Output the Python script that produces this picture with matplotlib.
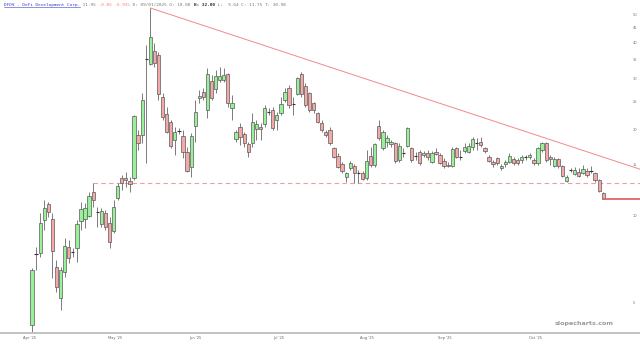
import numpy as np
import matplotlib
matplotlib.use("Agg")
import matplotlib.pyplot as plt
from matplotlib.ticker import FixedLocator, NullLocator

# ---- data (daily candles, DFDV) ----
opens = [4.18, 7.37, 7.43, 9.67, 10.99, 9.75, 6.63, 5.19, 6.38, 7.79,
         7.49, 7.73, 9.59, 9.75, 9.99, 12.09, 10.31, 9.36, 10.23, 9.44,
         8.86, 11.53, 13.54, 13.54, 13.21, 13.54, 19.09, 19.09, 35.02, 33.65,
         37.36, 36.19, 25.85, 22.56, 21.18, 18.34, 19.70, 18.93, 16.66, 14.77,
         20.51, 25.65, 26.91, 23.31, 29.39, 27.56, 29.63, 29.63, 31.06, 23.68,
         18.47, 20.34, 19.22, 17.75, 17.90, 20.01, 20.34, 20.83, 22.94, 23.31,
         21.52, 22.75, 25.25, 27.79, 24.44, 26.47, 31.06, 28.24, 26.69, 24.64,
         22.75, 21.00, 19.54, 19.86, 17.20, 16.13, 15.13, 13.64, 14.66, 14.90,
         14.08, 14.08, 13.54, 16.13, 15.02, 20.51, 17.20, 18.05, 17.75, 17.90,
         15.63, 16.52, 17.48, 17.20, 16.13, 16.66, 16.27, 16.52, 15.38, 16.66,
         16.27, 15.51, 15.02, 14.90, 17.20, 16.00, 16.79, 16.66, 17.33, 17.90,
         18.05, 17.20, 16.00, 15.38, 15.88, 14.66, 15.13, 15.38, 15.75, 15.63,
         15.63, 16.00, 16.00, 15.63, 15.25, 16.93, 17.90, 16.00, 14.90, 15.75,
         14.90, 13.21, 14.43, 13.97, 14.20, 14.08, 14.31, 14.31, 14.08, 13.32,
         12.00]
highs = [6.58, 7.79, 10.23, 11.35, 11.17, 10.23, 7.02, 6.63, 8.38, 8.24,
         7.73, 9.67, 11.17, 11.08, 12.09, 13.00, 10.73, 10.65, 10.48, 9.90,
         11.35, 13.00, 13.87, 14.20, 13.64, 22.40, 19.86, 26.69, 39.20, 52.69,
         39.81, 37.06, 26.69, 23.86, 21.52, 20.34, 20.19, 19.86, 17.33, 19.38,
         25.25, 27.35, 27.79, 32.60, 30.84, 32.09, 32.85, 32.60, 31.32, 26.28,
         19.86, 21.00, 19.54, 18.05, 22.75, 21.52, 21.00, 24.27, 23.68, 23.86,
         22.94, 25.85, 27.79, 28.47, 25.85, 30.33, 31.58, 28.92, 26.91, 24.85,
         22.94, 21.52, 19.86, 20.34, 17.33, 16.52, 15.38, 14.20, 15.51, 15.13,
         14.43, 14.31, 16.93, 17.33, 17.90, 21.52, 19.86, 19.09, 18.34, 18.05,
         17.90, 17.20, 20.34, 17.33, 16.66, 16.93, 16.79, 16.93, 16.79, 17.20,
         16.52, 15.88, 15.38, 17.33, 17.33, 16.93, 17.90, 17.90, 18.77, 18.63,
         18.77, 17.33, 16.27, 15.63, 16.00, 15.13, 15.63, 16.52, 16.00, 15.88,
         16.27, 16.27, 16.52, 15.88, 17.33, 18.05, 18.05, 16.27, 16.00, 15.88,
         15.02, 13.87, 14.66, 14.77, 14.66, 15.02, 14.66, 14.90, 14.20, 13.42,
         12.09]
lows = [3.95, 6.48, 7.19, 8.93, 9.90, 6.08, 5.44, 4.71, 6.12, 6.85,
        7.19, 6.91, 8.93, 9.07, 9.90, 10.73, 9.14, 9.14, 8.93, 7.73,
        8.72, 11.35, 12.29, 12.59, 12.09, 13.32, 16.93, 17.90, 15.25, 33.40,
        32.85, 25.25, 21.52, 19.38, 17.20, 16.27, 19.22, 15.88, 14.20, 13.64,
        18.05, 24.64, 25.25, 21.86, 25.25, 26.69, 29.16, 29.16, 23.86, 21.52,
        18.05, 17.62, 17.33, 16.00, 17.33, 18.34, 18.34, 20.34, 22.40, 19.86,
        19.86, 22.40, 24.85, 23.68, 22.40, 26.28, 25.85, 23.86, 22.94, 22.75,
        21.00, 19.54, 18.77, 17.62, 15.88, 14.66, 14.08, 13.11, 14.43, 13.00,
        13.00, 13.32, 13.32, 14.77, 14.77, 18.34, 16.93, 17.33, 17.33, 15.25,
        15.38, 16.00, 17.33, 15.38, 15.63, 15.02, 16.00, 15.63, 15.25, 16.27,
        15.13, 14.66, 14.77, 14.77, 15.88, 15.63, 16.52, 16.52, 16.93, 16.93,
        17.33, 16.52, 15.38, 14.77, 15.02, 14.43, 14.77, 15.25, 15.02, 15.02,
        15.25, 15.63, 15.75, 15.02, 15.02, 16.66, 15.38, 15.02, 14.77, 14.66,
        13.64, 13.11, 14.20, 13.87, 13.64, 13.97, 13.64, 14.08, 13.11, 12.09,
        11.43]
closes = [6.48, 7.37, 9.44, 10.65, 10.31, 7.55, 5.66, 6.48, 7.85, 7.14,
          7.49, 9.36, 10.56, 10.65, 11.71, 11.35, 10.31, 10.40, 9.14, 8.11,
          10.73, 12.69, 13.00, 13.32, 12.89, 22.21, 17.90, 25.25, 35.02, 41.76,
          33.93, 26.47, 22.03, 19.54, 17.48, 19.54, 19.70, 16.66, 14.31, 18.93,
          22.94, 26.06, 25.85, 31.06, 25.65, 30.58, 30.58, 30.84, 24.64, 24.64,
          19.54, 18.77, 17.90, 16.66, 21.18, 20.83, 20.01, 23.68, 22.94, 20.19,
          22.40, 24.44, 26.91, 24.27, 24.44, 30.10, 26.47, 24.27, 23.31, 23.31,
          21.18, 19.86, 19.09, 17.90, 16.00, 14.77, 14.31, 14.08, 15.25, 14.08,
          14.08, 13.42, 15.51, 15.02, 17.75, 18.63, 19.54, 18.63, 18.05, 15.51,
          17.48, 16.52, 20.19, 15.63, 16.13, 15.25, 16.52, 16.00, 16.52, 16.39,
          15.25, 14.90, 14.90, 17.06, 16.00, 16.00, 17.33, 17.48, 18.47, 17.90,
          17.62, 16.79, 15.51, 15.13, 15.25, 14.90, 15.38, 16.13, 15.25, 15.25,
          16.00, 16.00, 16.27, 15.25, 17.20, 17.90, 15.63, 15.75, 15.75, 14.90,
          13.75, 13.64, 14.43, 14.43, 13.75, 14.54, 13.87, 14.31, 13.32, 12.19,
          11.43]

month_labels = ["Apr '25", "May '25", "Jun '25", "Jul '25", "Aug '25", "Sep '25", "Oct '25"]
month_pos = [-0.7, 20.3, 40.0, 60.5, 82.1, 101.2, 123.3]
ytick_vals = [5, 10, 15, 20, 25, 30, 35, 40, 45, 50]

support_level = 12.95       # dashed horizontal line
support_start = 15
trend_pts_x = [29, 149]     # resistance trend line
trend_pts_y = [52.69, 14.5]
last_price = closes[-1]

header_parts = [
    ("DFDV - DeFi Development Corp.", "#3b3bd0", "normal"),
    (" 11.95", "#777777", "normal"),
    (" -0.85 -6.93%", "#f08080", "normal"),
    (" D: 09/01/2025 O: 18.00 ", "#777777", "normal"),
    ("H: 32.00", "#222222", "bold"),
    (" L:  9.64 C: 11.75 T: 30.98", "#777777", "normal"),
]

# ---- figure ----
W, H = 640, 345
fig = plt.figure(figsize=(W / 100, H / 100), dpi=100)
ax = fig.add_axes([0, 12 / H, 1, 333 / H])
ax.set_yscale("log")
ax.set_ylim(3.91, 56.17)
ax.set_xlim(-7.84, 149.0)

o = np.array(opens); h = np.array(highs); l = np.array(lows); c = np.array(closes)
x = np.arange(len(o))
up = c > o
down = c < o
flat = c == o

edge = "#5a5a5a"
ax.vlines(x, l, h, color="#666666", lw=0.6, zorder=2)
bw = 0.8
ax.bar(x[up], (c - o)[up], bottom=o[up], width=bw, color="#98f098",
       edgecolor=edge, linewidth=0.5, zorder=3)
ax.bar(x[down], (o - c)[down], bottom=c[down], width=bw, color="#f5a8a8",
       edgecolor=edge, linewidth=0.5, zorder=3)
ax.hlines(o[flat], x[flat] - bw / 2, x[flat] + bw / 2, color="#333333", lw=0.8, zorder=3)

# support dashed line
ax.hlines(support_level, support_start, 149.0, color="#eaa0a0", lw=0.8,
          linestyles=(0, (4, 3)), zorder=1)
# trend line
ax.plot(trend_pts_x, trend_pts_y, color="#f08a8a", lw=0.7, zorder=1)
# last price line
ax.hlines(last_price, len(o) - 1, 149.0, color="#e06666", lw=1.3, zorder=4)

# axes styling
for s in ["top", "left", "right"]:
    ax.spines[s].set_visible(False)
ax.spines["bottom"].set_color("#bdbdbd")
ax.spines["bottom"].set_linewidth(1.3)

ax.yaxis.set_major_locator(FixedLocator(ytick_vals))
ax.yaxis.set_minor_locator(NullLocator())
ax.set_yticklabels([str(v) for v in ytick_vals])
ax.yaxis.tick_right()
ax.tick_params(axis="y", length=0, pad=-5.2, labelsize=2.6, labelcolor="#777777")

ax.set_xticks(month_pos)
ax.set_xticklabels(month_labels)
ax.tick_params(axis="x", length=0, pad=2.5, labelsize=2.6, labelcolor="#666666")

# header
fs = 3.15
cw = fs * 100 / 72 * 0.602  # px per monospace char
xpos = 4.0
for txt, col, wt in header_parts:
    t = fig.text(xpos / W, 1 - 5 / H, txt, fontsize=fs, family="DejaVu Sans Mono",
                 color=col, weight=wt, va="center", ha="left")
    if txt.startswith("DFDV"):
        fig.add_artist(plt.Line2D([xpos / W, (xpos + cw * len(txt)) / W],
                                  [1 - 7.3 / H, 1 - 7.3 / H], color=col, lw=0.4))
    xpos += cw * len(txt)

# watermark
fig.text(584 / W, 1 - 324 / H, "slopecharts.com", fontsize=4.6, weight="bold",
         color="#9a9a9a", ha="center", va="center")

fig.savefig("out.png", dpi=100)
